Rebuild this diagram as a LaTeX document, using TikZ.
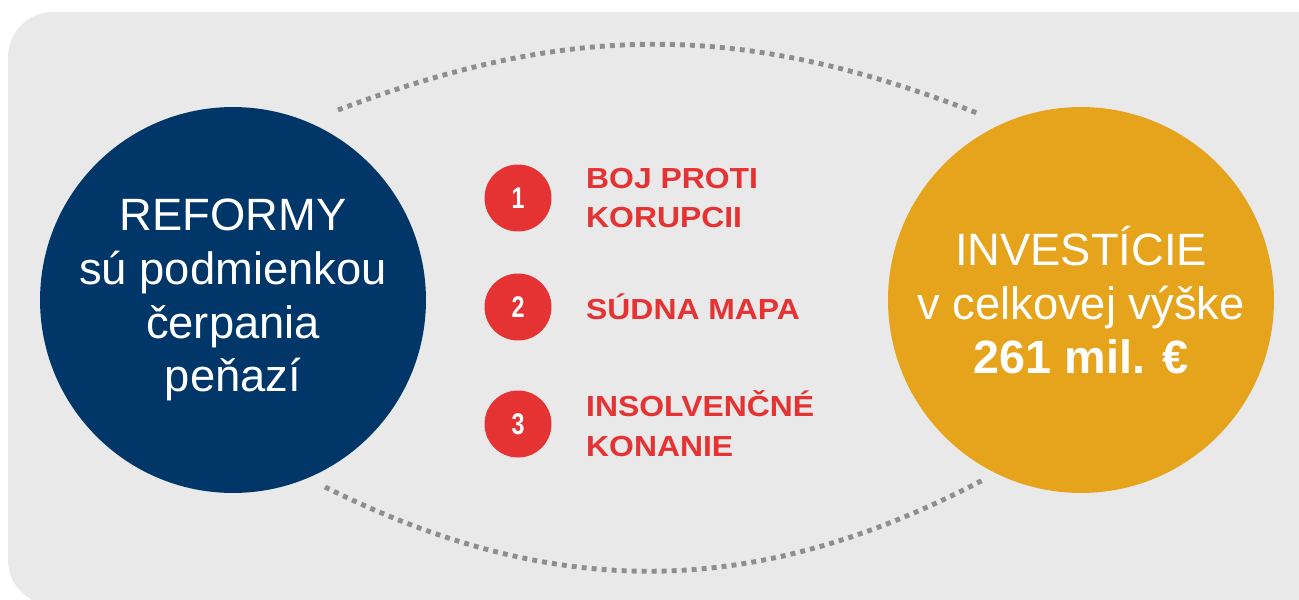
\documentclass[tikz,border=0pt]{standalone}
\usepackage{fontspec}
\setmainfont{Liberation Sans}
\newfontfamily\itemfont[FakeStretch=1.1]{Liberation Sans}
\newfontfamily\numfont[FakeStretch=0.78]{Liberation Sans}
\usetikzlibrary{positioning}

\definecolor{panelgray}{HTML}{E9E9E9}
\definecolor{reformblue}{HTML}{003668}
\definecolor{investgold}{HTML}{E6A31C}
\definecolor{itemred}{HTML}{E53232}
\definecolor{dotgray}{HTML}{8E8E8E}

\tikzset{
  bigdisc/.style={circle, minimum size=7.72cm, inner sep=0pt, text=white,
    align=center, font=\fontsize{25.8}{30.6}\selectfont},
  numdot/.style={circle, fill=itemred, minimum size=1.34cm, inner sep=0pt,
    text=white, font=\numfont\bfseries\fontsize{17}{20}\selectfont},
  itemlabel/.style={align=left, inner sep=0pt, text=itemred,
    font=\itemfont\bfseries\fontsize{16.5}{22.7}\selectfont},
  dotline/.style={dotgray, line width=2.8pt, dash pattern=on 2.8pt off 2.9pt},
}

\begin{document}
\begin{tikzpicture}[x=0.02cm, y=-0.02cm]
      \useasboundingbox (0,0) rectangle (1299,599);
      \fill[panelgray, rounded corners=0.9cm] (8,12) rectangle (1345,605);

      % the two big discs
      \node[bigdisc, fill=reformblue] (reform) at (233,300)
        {REFORMY\\sú podmienkou\\čerpania\\peňazí};
      \node[bigdisc, fill=investgold] (invest) at (1081,300)
        {INVESTÍCIE\\v celkovej výške\\{\bfseries\fontsize{26.6}{30.6}\selectfont 261 mil. €}};

      % numbered items
      \node[numdot] (n1) at (518,198) {1};
      \node[numdot] (n2) at (518,307) {2};
      \node[numdot] (n3) at (518,424) {3};

      \node[itemlabel, right=0.68cm of n1] (l1) {BOJ PROTI\\KORUPCII};
      \node[itemlabel, right=0.68cm of n2] (l2) {SÚDNA MAPA};
      \node[itemlabel, right=0.68cm of n3] (l3) {INSOLVENČNÉ\\KONANIE};

      % dotted arcs between the discs
      \coordinate (arcNW) at (338,110);
      \coordinate (arcNE) at (977,113);
      \coordinate (arcSW) at (325,487);
      \coordinate (arcSE) at (983,480);
      \draw[dotline] (arcNW) to[bend left=21] (arcNE);
      \draw[dotline] (arcSW) to[bend right=27] (arcSE);
    \end{tikzpicture}
\end{document}
